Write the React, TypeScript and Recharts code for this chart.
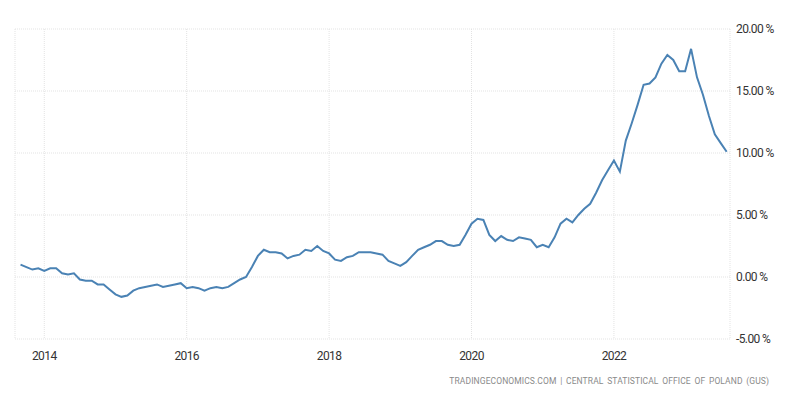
import React from 'react';
import { LineChart, Line, XAxis, YAxis, CartesianGrid } from 'recharts';

// Poland inflation rate, monthly, Sep 2013 .. Aug 2023
const startYear = 2013;
const startMonth = 9;

const values = [
  1.0, 0.8, 0.6, 0.7,
  0.5, 0.7, 0.7, 0.3, 0.2, 0.3, -0.2, -0.3, -0.3, -0.6, -0.6, -1.0,
  -1.4, -1.6, -1.5, -1.1, -0.9, -0.8, -0.7, -0.6, -0.8, -0.7, -0.6, -0.5,
  -0.9, -0.8, -0.9, -1.1, -0.9, -0.8, -0.9, -0.8, -0.5, -0.2, 0.0, 0.8,
  1.7, 2.2, 2.0, 2.0, 1.9, 1.5, 1.7, 1.8, 2.2, 2.1, 2.5, 2.1,
  1.9, 1.4, 1.3, 1.6, 1.7, 2.0, 2.0, 2.0, 1.9, 1.8, 1.3, 1.1,
  0.9, 1.2, 1.7, 2.2, 2.4, 2.6, 2.9, 2.9, 2.6, 2.5, 2.6, 3.4,
  4.3, 4.7, 4.6, 3.4, 2.9, 3.3, 3.0, 2.9, 3.2, 3.1, 3.0, 2.4,
  2.6, 2.4, 3.2, 4.3, 4.7, 4.4, 5.0, 5.5, 5.9, 6.8, 7.8, 8.6,
  9.4, 8.5, 11.0, 12.4, 13.9, 15.5, 15.6, 16.1, 17.2, 17.9, 17.5, 16.6,
  16.6, 18.4, 16.1, 14.7, 13.0, 11.5, 10.8, 10.1,
];

const yearTicks = [2014, 2016, 2018, 2020, 2022];
const rateTicks = [-5, 0, 5, 10, 15, 20];
const source = 'TRADINGECONOMICS.COM | CENTRAL STATISTICAL OFFICE OF POLAND (GUS)';

const data = values.map((v, i) => ({
  t: startYear + (startMonth - 1 + i) / 12,
  rate: v,
}));

const tickStyle = {
  fill: '#333',
  fontSize: 12,
  fontFamily: 'Roboto, "Noto Sans", sans-serif',
  letterSpacing: -0.6,
};

export default function App() {
  return (
    <div style={{ position: 'absolute', left: 0, top: 0, width: 800, height: 396, background: '#fff' }}>
      <LineChart width={800} height={396} data={data} margin={{ top: 29, right: 0, left: 15, bottom: 0 }}>
        <CartesianGrid stroke="#e3e3e3" strokeDasharray="1 1" />
        <XAxis
          dataKey="t"
          type="number"
          domain={[2013.589, 2023.63]}
          ticks={yearTicks}
          axisLine={false}
          tickLine={false}
          tick={tickStyle}
          tickMargin={6}
          height={57}
          allowDataOverflow
        />
        <YAxis
          orientation="right"
          domain={[-5, 20]}
          ticks={rateTicks}
          axisLine={false}
          tickLine={false}
          tick={tickStyle}
          tickFormatter={(v: number) => `${v.toFixed(2)} %`}
          tickSize={0}
          tickMargin={6}
          width={70}
        />
        <Line
          type="linear"
          dataKey="rate"
          stroke="#4a82b4"
          strokeWidth={2}
          dot={false}
          isAnimationActive={false}
        />
      </LineChart>
      <div
        style={{
          position: 'absolute',
          right: 31,
          top: 376,
          fontSize: 8.5,
          letterSpacing: 0.1,
          wordSpacing: 1.5,
          color: '#8a8a8a',
          fontFamily: 'Roboto, "Noto Sans", sans-serif',
          whiteSpace: 'nowrap',
          textAlign: 'right',
        }}
      >
        {source}
      </div>
    </div>
  );
}
